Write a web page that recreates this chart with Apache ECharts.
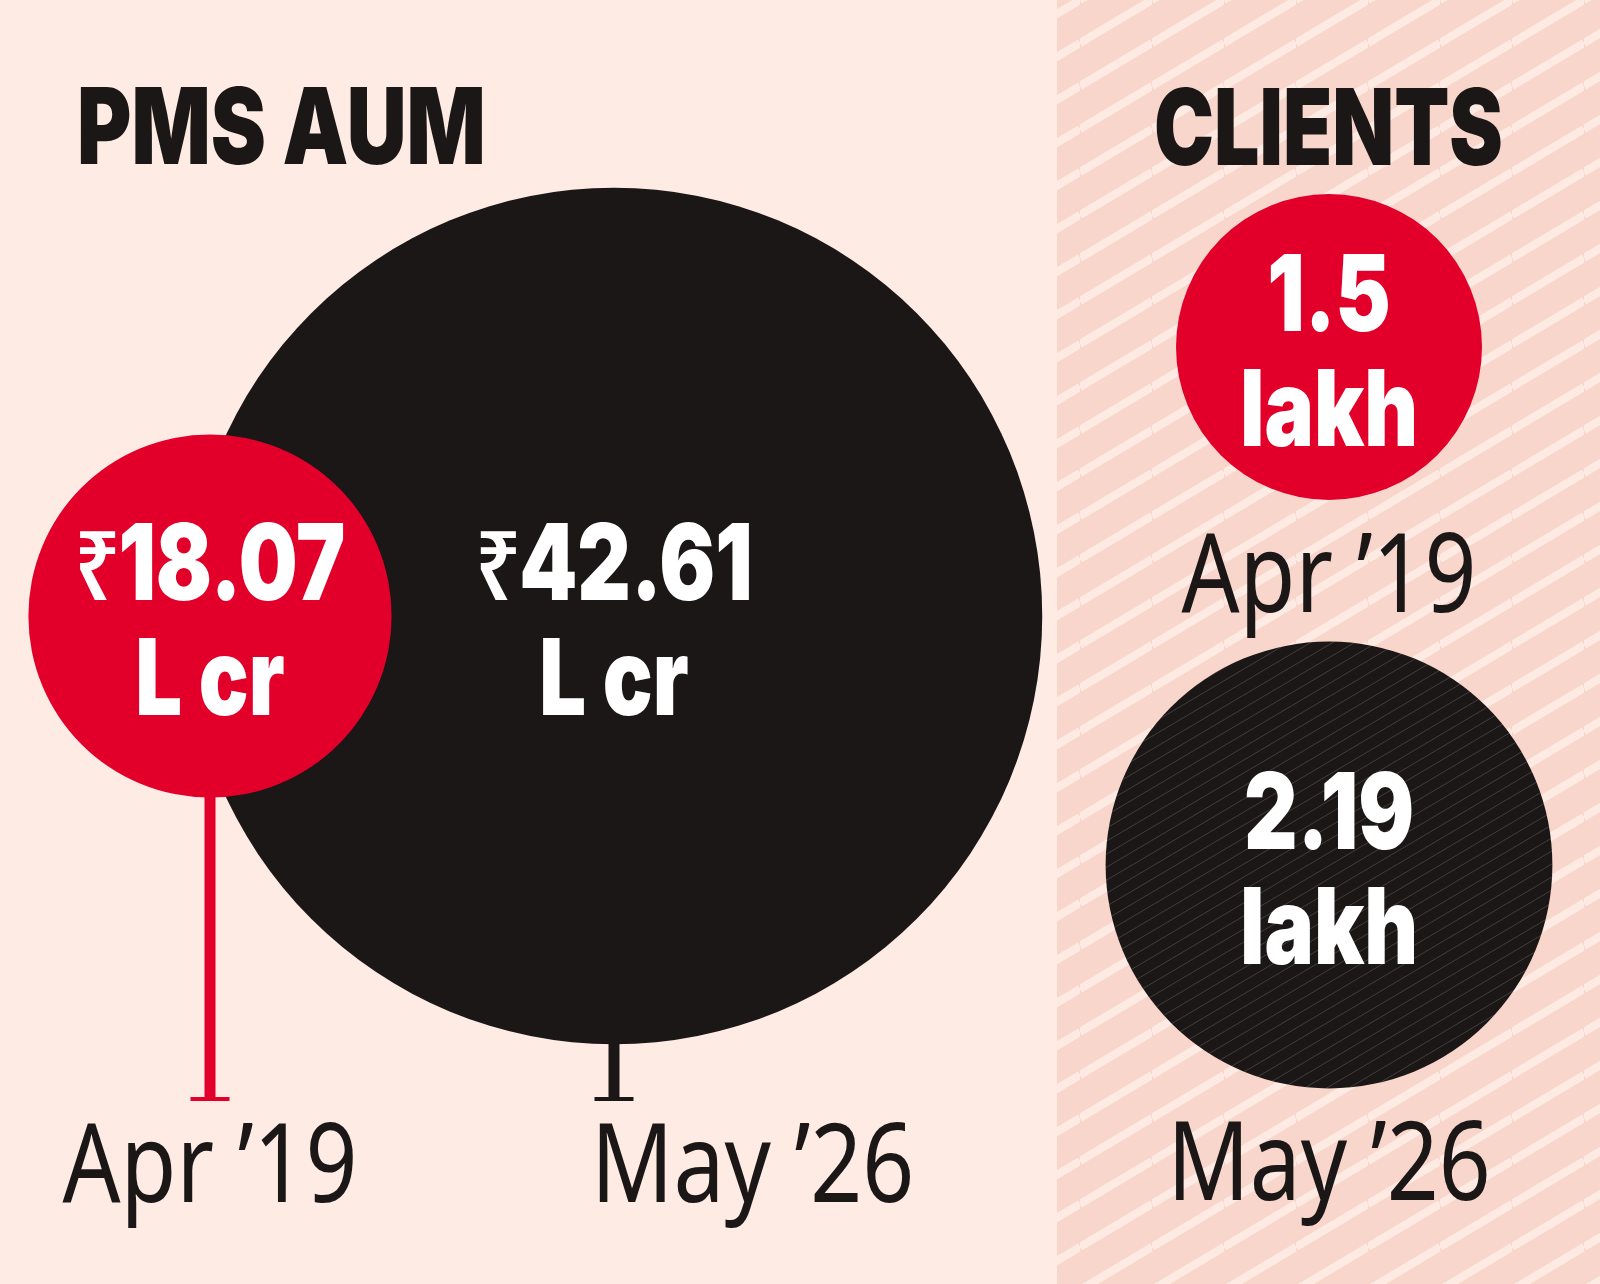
<!DOCTYPE html>
<html>
<head>
<meta charset="utf-8">
<script src="https://cdn.jsdelivr.net/npm/echarts@6/dist/echarts.min.js"></script>
<style>
  html, body { margin: 0; padding: 0; background: #fdebe4; }
  #chart { width: 1600px; height: 1284px; }
</style>
</head>
<body>
<div id="chart"></div>
<script>
// PMS AUM (₹ lakh crore) and client count (lakh)
var aumDates = ['Apr ’19', 'May ’26'];
var aumValues = [18.07, 42.61];
var clientDates = ['Apr ’19', 'May ’26'];
var clientValues = [1.5, 2.19];

var RED = '#e2002b';
var BLACK = '#1b1716';
var colors = [RED, BLACK];

var BOLD = '900 106px Inter';
var REG = '400 109px "Noto Sans"';
var RUPEE = '600 96px "Noto Sans"';

var AUM_PX = 20.1;     // circle diameter per lakh crore
var CLI_PX = 204;      // circle diameter per lakh clients
var STEM_END = 1099;   // baseline of the stems in the AUM panel

// text measuring, so the text can be placed by its baseline
var mctx = document.createElement('canvas').getContext('2d');
function measure(str, font) {
  mctx.font = font;
  mctx.textBaseline = 'middle';
  return mctx.measureText(str);
}
function midY(baseline, font) {
  return baseline - measure('H', font).actualBoundingBoxDescent;
}
var boldSX = 227 / measure('18.07', BOLD).width;
var regSX = 295 / measure('Apr ’19', REG).width;

function txt(str, x, baseline, font, sx, fill, align, z2) {
  return {
    type: 'text', x: x, y: midY(baseline, font), scaleX: sx, z2: z2 || 20,
    style: { text: str, font: font, fill: fill, align: align, verticalAlign: 'middle' }
  };
}

// diagonal stripe tile
function stripes(w, h, bg, fg, lw) {
  var cv = document.createElement('canvas');
  cv.width = w; cv.height = h;
  var ctx = cv.getContext('2d');
  if (bg) { ctx.fillStyle = bg; ctx.fillRect(0, 0, w, h); }
  ctx.strokeStyle = fg;
  ctx.lineWidth = lw;
  for (var m = -1; m <= 2; m++) {
    ctx.beginPath();
    ctx.moveTo(0, h * m);
    ctx.lineTo(w, h * (m - 1));
    ctx.stroke();
  }
  return cv;
}
var bgTile = stripes(72, 43, '#f9d6cb', '#fdeae2', 8);
var darkTile = stripes(22, 13, null, 'rgba(255,255,255,0.17)', 1);

// two lines of white text centred in a circle
function valueLines(cx, cy, prefix, top, bottom) {
  var out = [];
  var nW = measure(top, BOLD).width * boldSX;
  var pW = prefix ? measure(prefix, RUPEE).width * regSX - 2 : 0;
  var start = cx - (pW + nW) / 2;
  if (prefix) out.push(txt(prefix, start, cy - 16, RUPEE, regSX, '#fff', 'left'));
  out.push(txt(top, start + pW, cy - 16, BOLD, boldSX, '#fff', 'left'));
  out.push(txt(bottom, cx, cy + 99, BOLD, boldSX, '#fff', 'center'));
  return out;
}

function renderAum(params, api) {
  var i = params.dataIndex;
  var c = api.coord([api.value(0), api.value(1)]);
  var r = api.value(2) * AUM_PX / 2;
  var col = colors[i];
  var kids = [
    { type: 'line', shape: { x1: c[0], y1: c[1] + r - 4, x2: c[0], y2: STEM_END + 2 }, style: { stroke: col, lineWidth: 11 } },
    { type: 'line', shape: { x1: c[0] - 19.5, y1: STEM_END, x2: c[0] + 19.5, y2: STEM_END }, style: { stroke: col, lineWidth: 4 } },
    { type: 'circle', shape: { cx: c[0], cy: c[1], r: r }, style: { fill: col }, z2: i === 0 ? 10 : 0 }
  ];
  kids = kids.concat(valueLines(c[0], c[1], '₹', aumValues[i].toFixed(2), 'L cr'));
  if (i === 0) kids.push(txt(aumDates[i], c[0], 1202, REG, regSX, BLACK, 'center'));
  else kids.push(txt(aumDates[i], c[0] - 23, 1202, REG, regSX, BLACK, 'left'));
  return { type: 'group', children: kids };
}

function renderClients(params, api) {
  var i = params.dataIndex;
  var c = api.coord([api.value(0), api.value(1)]);
  var r = api.value(2) * CLI_PX / 2;
  var col = colors[i];
  var kids = [{ type: 'circle', shape: { cx: c[0], cy: c[1], r: r }, style: { fill: col }, z2: 0 }];
  if (col === BLACK) {
    kids.push({ type: 'circle', shape: { cx: c[0], cy: c[1], r: r }, style: { fill: { image: darkTile, repeat: 'repeat' } }, z2: 1 });
  }
  kids = kids.concat(valueLines(c[0], c[1], '', String(clientValues[i]), 'lakh'));
  kids.push(txt(clientDates[i], c[0], c[1] + r + 112, REG, regSX, BLACK, 'center'));
  return { type: 'group', children: kids };
}

var chart = echarts.init(document.getElementById('chart'), null, { renderer: 'canvas' });
chart.setOption({
  backgroundColor: '#fdebe4',
  animation: false,
  grid: [
    { left: 8, width: 808, top: 192, height: 848 },
    { left: 1229, width: 200, top: 88, height: 1036 }
  ],
  xAxis: [
    { gridIndex: 0, type: 'category', data: aumDates, show: false },
    { gridIndex: 1, type: 'value', min: -1, max: 1, show: false }
  ],
  yAxis: [
    { gridIndex: 0, type: 'value', min: -1, max: 1, show: false },
    { gridIndex: 1, type: 'category', data: clientDates, inverse: true, show: false }
  ],
  graphic: [
    { type: 'rect', z: -10, shape: { x: 1057, y: 0, width: 543, height: 1284 }, style: { fill: { image: bgTile, repeat: 'repeat' } } },
    { type: 'text', x: 77, y: midY(164, BOLD), scaleX: boldSX, style: { text: 'PMS AUM', font: BOLD, fill: BLACK, align: 'left', verticalAlign: 'middle' } },
    { type: 'text', x: 1154, y: midY(165, BOLD), scaleX: boldSX * 0.97, style: { text: 'CLIENTS', font: BOLD, fill: BLACK, align: 'left', verticalAlign: 'middle' } }
  ],
  series: [
    {
      type: 'custom', name: 'PMS AUM', xAxisIndex: 0, yAxisIndex: 0,
      data: aumValues.map(function (v, i) { return [i, 0, v]; }),
      renderItem: renderAum
    },
    {
      type: 'custom', name: 'Clients', xAxisIndex: 1, yAxisIndex: 1,
      data: clientValues.map(function (v, i) { return [0, i, v]; }),
      renderItem: renderClients
    }
  ]
});
</script>
</body>
</html>
